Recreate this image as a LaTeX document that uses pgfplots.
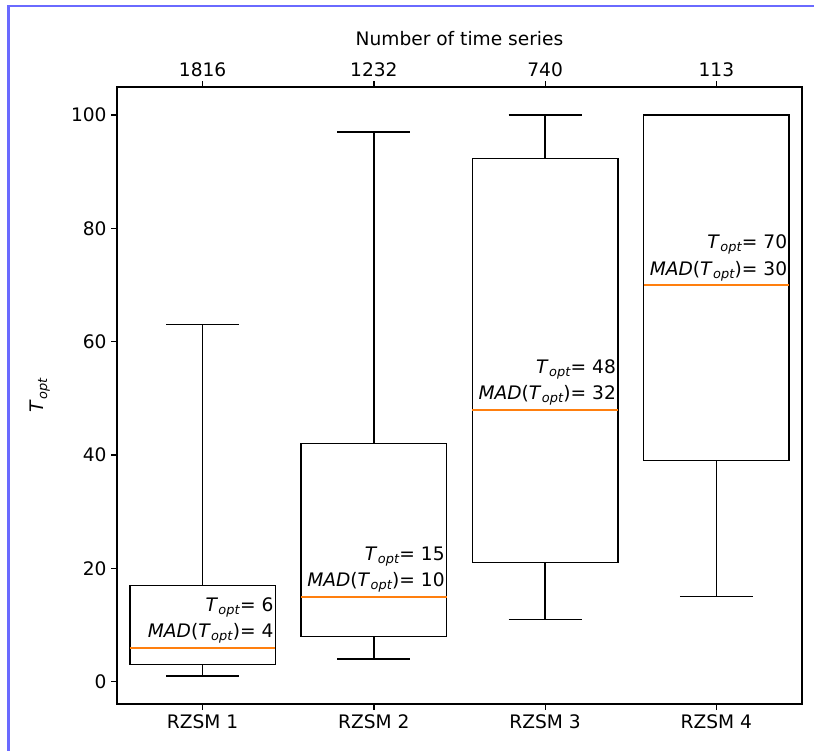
\documentclass[border=0pt]{standalone}
\usepackage{fontspec}
\setmainfont{DejaVu Sans}
\usepackage{pgfplots}
\pgfplotsset{compat=1.18}
\usepgfplotslibrary{statistics}
\definecolor{mplorange}{HTML}{FF7F0E}
\definecolor{bord}{HTML}{6A6AFF}
\newcommand{\fs}{\fontsize{13.4pt}{16pt}\selectfont}
\newcommand{\Topt}{\textit{T}\kern0.02em\raisebox{-0.32ex}{\fontsize{9.3pt}{10pt}\selectfont\textit{opt}}}
\begin{document}
\begin{tikzpicture}
\useasboundingbox (-84.24pt,-33.84pt) rectangle (501.84pt,506.88pt);
\draw[bord, line width=1.5pt] (501.84pt,502.56pt) -- (-78.12pt,502.56pt) -- (-78.12pt,-33.84pt);
\pgfplotsset{
  common/.style={
    scale only axis, width=493.2pt, height=444.24pt,
    xmin=0.5, xmax=4.5,
    tick align=outside, major tick length=4pt,
    tick style={black, line width=0.9pt},
    axis line style={line width=0.9pt},
    tick label style={font=\fs},
    label style={font=\fs},
    /pgf/number format/assume math mode=true,
  }
}
\begin{axis}[common,
  ymin=-3.95, ymax=104.95,
  xtick={1,2,3,4}, xticklabels={RZSM 1,RZSM 2,RZSM 3,RZSM 4},
  ytick={0,20,40,60,80,100},
  xtick pos=lower, ytick pos=left,
  ylabel={\Topt},
  ylabel style={at={(axis description cs:-0.1123,0.5)}, anchor=center},
  boxplot/draw direction=y,
  boxplot/every median/.style={draw=mplorange, line width=1.4pt},
]
\addplot[black, line width=1.1pt, boxplot prepared={draw position=1, lower whisker=1, lower quartile=3, median=6, upper quartile=17, upper whisker=63, box extend=0.85, whisker extend=0.425}] coordinates {};
\addplot[black, line width=1.1pt, boxplot prepared={draw position=2, lower whisker=4, lower quartile=8, median=15, upper quartile=42, upper whisker=97, box extend=0.85, whisker extend=0.425}] coordinates {};
\addplot[black, line width=1.1pt, boxplot prepared={draw position=3, lower whisker=11, lower quartile=21, median=48, upper quartile=92.3, upper whisker=100, box extend=0.85, whisker extend=0.425}] coordinates {};
\addplot[black, line width=1.1pt, boxplot prepared={draw position=4, lower whisker=15, lower quartile=39, median=70, upper quartile=100, upper whisker=100, box extend=0.85, whisker extend=0.425}] coordinates {};
% annotations
\node[anchor=base east, inner sep=0pt, font=\fs, yshift=7.2pt] at (axis cs:1.415,6) {\textit{MAD}(\Topt)= 4};
\node[anchor=base east, inner sep=0pt, font=\fs, yshift=26.3pt] at (axis cs:1.415,6) {\Topt= 6};
\node[anchor=base east, inner sep=0pt, font=\fs, yshift=7.2pt] at (axis cs:2.415,15) {\textit{MAD}(\Topt)= 10};
\node[anchor=base east, inner sep=0pt, font=\fs, yshift=26.3pt] at (axis cs:2.415,15) {\Topt= 15};
\node[anchor=base east, inner sep=0pt, font=\fs, yshift=7.2pt] at (axis cs:3.415,48) {\textit{MAD}(\Topt)= 32};
\node[anchor=base east, inner sep=0pt, font=\fs, yshift=26.3pt] at (axis cs:3.415,48) {\Topt= 48};
\node[anchor=base east, inner sep=0pt, font=\fs, yshift=7.2pt] at (axis cs:4.415,70) {\textit{MAD}(\Topt)= 30};
\node[anchor=base east, inner sep=0pt, font=\fs, yshift=26.3pt] at (axis cs:4.415,70) {\Topt= 70};
\end{axis}
\begin{axis}[common,
  ymin=0, ymax=1,
  axis x line*=top, axis y line=none,
  xtick={1,2,3,4}, xticklabels={1816,1232,740,113},
  xlabel={Number of time series},
  xlabel style={yshift=5pt},
]
\addplot[draw=none] coordinates {(1,0.5)};
\end{axis}
\end{tikzpicture}
\end{document}
